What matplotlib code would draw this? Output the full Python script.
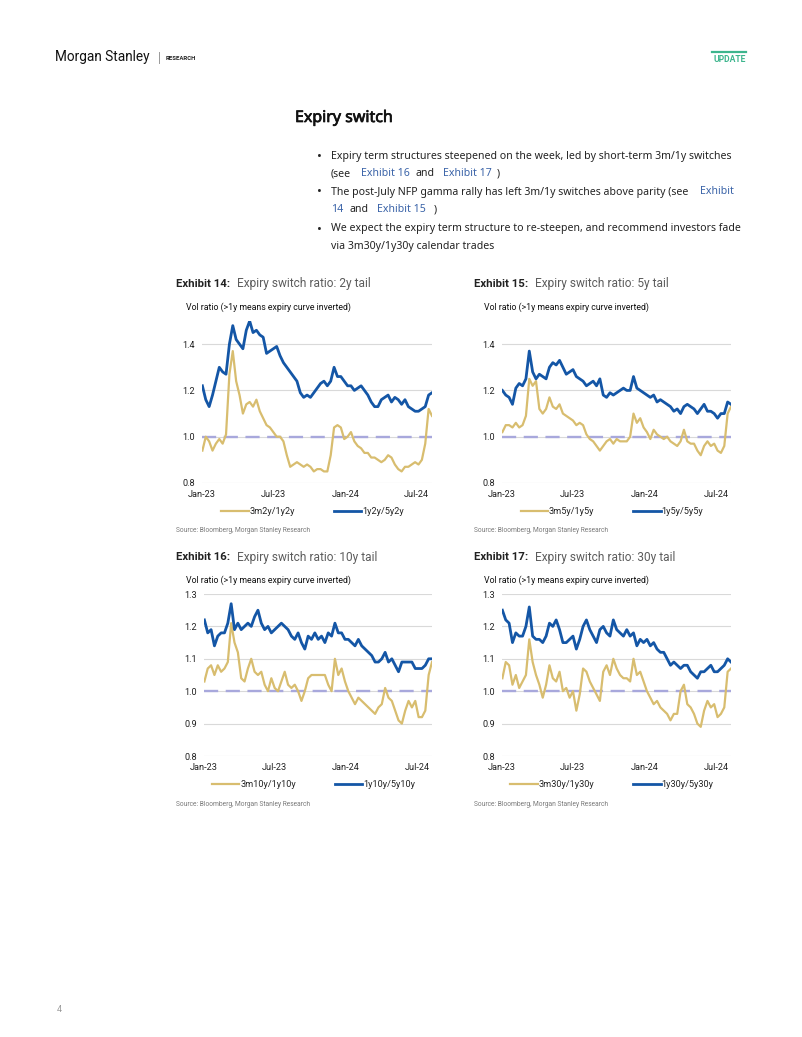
import numpy as np
import pandas as pd
import matplotlib.pyplot as plt
import matplotlib.patheffects as pe
from matplotlib.lines import Line2D

W, H = 802, 1037

start, end = '2023-01-02', '2024-08-09'

blue_2y = [1.22, 1.16, 1.13, 1.18, 1.24, 1.30, 1.28, 1.27, 1.40, 1.48,
           1.42, 1.40, 1.38, 1.46, 1.50, 1.45, 1.46, 1.44, 1.43, 1.36,
           1.37, 1.38, 1.39, 1.35, 1.32, 1.30, 1.28, 1.26, 1.24, 1.19,
           1.17, 1.18, 1.17, 1.19, 1.21, 1.23, 1.24, 1.22, 1.24, 1.30,
           1.26, 1.26, 1.24, 1.22, 1.22, 1.20, 1.21, 1.22, 1.20, 1.18,
           1.15, 1.13, 1.13, 1.16, 1.17, 1.18, 1.15, 1.17, 1.16, 1.14,
           1.16, 1.13, 1.12, 1.11, 1.11, 1.12, 1.13, 1.18, 1.19]
gold_2y = [0.94, 1.00, 0.98, 0.94, 0.97, 0.99, 0.97, 1.01, 1.27, 1.37,
           1.24, 1.18, 1.10, 1.14, 1.15, 1.13, 1.16, 1.11, 1.08, 1.05,
           1.04, 1.02, 1.00, 1.00, 0.98, 0.92, 0.87, 0.88, 0.89, 0.88,
           0.87, 0.88, 0.87, 0.85, 0.86, 0.86, 0.85, 0.85, 0.92, 1.04,
           1.05, 1.04, 0.99, 1.00, 1.02, 0.98, 0.96, 0.95, 0.93, 0.93,
           0.91, 0.91, 0.90, 0.89, 0.90, 0.92, 0.91, 0.88, 0.86, 0.85,
           0.87, 0.87, 0.88, 0.89, 0.88, 0.90, 0.97, 1.12, 1.09]

blue_5y = [1.20, 1.18, 1.17, 1.14, 1.21, 1.23, 1.22, 1.25, 1.37, 1.28,
           1.25, 1.27, 1.26, 1.25, 1.30, 1.32, 1.31, 1.33, 1.30, 1.27,
           1.28, 1.29, 1.26, 1.25, 1.24, 1.22, 1.23, 1.24, 1.22, 1.25,
           1.18, 1.17, 1.19, 1.18, 1.19, 1.20, 1.21, 1.20, 1.20, 1.26,
           1.21, 1.20, 1.19, 1.18, 1.17, 1.18, 1.15, 1.16, 1.15, 1.14,
           1.13, 1.11, 1.12, 1.10, 1.13, 1.14, 1.13, 1.12, 1.10, 1.12,
           1.14, 1.11, 1.11, 1.10, 1.08, 1.10, 1.10, 1.15, 1.14]
gold_5y = [1.02, 1.05, 1.05, 1.04, 1.06, 1.04, 1.05, 1.09, 1.25, 1.22,
           1.24, 1.12, 1.10, 1.12, 1.17, 1.13, 1.12, 1.14, 1.10, 1.09,
           1.08, 1.07, 1.05, 1.06, 1.05, 1.01, 0.99, 0.98, 0.96, 0.94,
           0.96, 0.98, 0.99, 0.97, 0.99, 0.98, 0.98, 0.98, 1.00, 1.10,
           1.06, 1.08, 1.04, 1.02, 0.99, 1.03, 1.01, 1.00, 0.99, 1.00,
           0.98, 0.97, 0.96, 0.98, 1.03, 0.98, 0.97, 0.97, 0.94, 0.92,
           0.96, 0.98, 0.96, 0.97, 0.94, 0.93, 0.96, 1.10, 1.13]

blue_10y = [1.22, 1.18, 1.19, 1.14, 1.17, 1.18, 1.18, 1.21, 1.27, 1.19,
            1.21, 1.19, 1.20, 1.21, 1.20, 1.23, 1.25, 1.21, 1.19, 1.20,
            1.18, 1.19, 1.20, 1.21, 1.20, 1.19, 1.17, 1.16, 1.18, 1.15,
            1.13, 1.17, 1.16, 1.18, 1.16, 1.17, 1.15, 1.18, 1.17, 1.21,
            1.18, 1.18, 1.16, 1.16, 1.15, 1.14, 1.16, 1.14, 1.13, 1.12,
            1.11, 1.09, 1.09, 1.10, 1.12, 1.09, 1.10, 1.08, 1.06, 1.09,
            1.09, 1.09, 1.09, 1.07, 1.07, 1.07, 1.08, 1.10, 1.10]
gold_10y = [1.03, 1.07, 1.08, 1.05, 1.08, 1.06, 1.07, 1.09, 1.21, 1.15,
            1.12, 1.04, 1.03, 1.07, 1.10, 1.06, 1.05, 1.06, 1.02, 1.00,
            1.04, 1.01, 1.00, 1.03, 1.06, 1.02, 1.01, 1.02, 1.00, 0.97,
            1.00, 1.04, 1.05, 1.05, 1.05, 1.05, 1.05, 1.02, 1.00, 1.10,
            1.05, 1.07, 1.03, 1.00, 0.98, 0.96, 0.98, 0.97, 0.96, 0.95,
            0.94, 0.93, 0.95, 0.96, 1.01, 0.98, 0.97, 0.94, 0.91, 0.90,
            0.94, 0.97, 0.95, 0.97, 0.92, 0.92, 0.94, 1.05, 1.09]

blue_30y = [1.25, 1.22, 1.21, 1.15, 1.18, 1.17, 1.17, 1.20, 1.26, 1.17,
            1.16, 1.16, 1.15, 1.17, 1.21, 1.20, 1.22, 1.19, 1.15, 1.15,
            1.16, 1.17, 1.13, 1.16, 1.20, 1.22, 1.19, 1.17, 1.15, 1.19,
            1.20, 1.18, 1.17, 1.22, 1.19, 1.18, 1.17, 1.19, 1.17, 1.18,
            1.14, 1.16, 1.15, 1.16, 1.14, 1.15, 1.13, 1.12, 1.12, 1.10,
            1.08, 1.09, 1.08, 1.07, 1.08, 1.08, 1.06, 1.05, 1.04, 1.06,
            1.06, 1.07, 1.08, 1.06, 1.06, 1.07, 1.08, 1.10, 1.09]
gold_30y = [1.04, 1.09, 1.08, 1.02, 1.05, 1.01, 1.03, 1.05, 1.16, 1.09,
            1.05, 1.02, 0.98, 1.02, 1.08, 1.04, 1.03, 1.06, 1.00, 1.01,
            0.98, 1.00, 0.94, 0.99, 1.07, 1.06, 1.03, 1.01, 0.99, 0.97,
            1.06, 1.08, 1.05, 1.10, 1.07, 1.05, 1.04, 1.04, 1.03, 1.10,
            1.05, 1.06, 1.03, 1.00, 0.98, 0.96, 0.97, 0.95, 0.94, 0.93,
            0.91, 0.93, 0.93, 1.00, 1.02, 0.96, 0.95, 0.93, 0.90, 0.89,
            0.94, 0.97, 0.95, 0.96, 0.92, 0.93, 0.95, 1.06, 1.07]

tick_dates = ['2023-01-01', '2023-07-01', '2024-01-01', '2024-07-01']
tick_labels = ['Jan-23', 'Jul-23', 'Jan-24', 'Jul-24']

BLUE = '#1456a6'
GOLD = '#d8bd6f'
LAV = '#a8a8dc'
GRID = '#d9d9d9'
CF = 'Roboto'
BF = 'Noto Sans'

fig = plt.figure(figsize=(W / 100, H / 100), dpi=100)


def fx(x):
    return x / W


def fy(y):
    return 1 - y / H


def txt(x, y, s, **kw):
    kw.setdefault('va', 'center')
    return fig.text(fx(x), fy(y), s, **kw)


# header
txt(55, 57, 'Morgan Stanley', family=CF, fontsize=9.8, color='#111111')
fig.add_artist(Line2D([fx(159), fx(159)], [fy(52), fy(63)], color='#999999', lw=0.7))
txt(166, 58, 'RESEARCH', family=CF, fontsize=4.3, weight='bold', color='#222222')
fig.add_artist(Line2D([fx(712), fx(746)], [fy(52), fy(52)], color='#3db58d', lw=1.6))
txt(746, 59, 'UPDATE', family=CF, fontsize=6.2, weight='bold', color='#3db58d', ha='right')

# section text
txt(295, 118, 'Expiry switch', family=BF, fontsize=11.5, color='#111111',
    path_effects=[pe.withStroke(linewidth=0.5, foreground='#111111')])
body = dict(family=BF, fontsize=7.6, color='#222222')
link = dict(family=BF, fontsize=7.6, color='#3a63a8')
for yb in [156, 192, 229]:
    txt(317, yb, '\u2022', family=BF, fontsize=9.5, color='#222222')
txt(331, 156, 'Expiry term structures steepened on the week, led by short-term 3m/1y switches', **body)
txt(331, 174, '(see', **body)
txt(361, 174, 'Exhibit 16', **link)
txt(416, 174, 'and', **body)
txt(443, 174, 'Exhibit 17', **link)
txt(497, 174, ')', **body)
txt(331, 192, 'The post-July NFP gamma rally has left 3m/1y switches above parity (see', **body)
txt(700, 192, 'Exhibit', **link)
txt(331, 210, '14', **link)
txt(350, 210, 'and', **body)
txt(377, 210, 'Exhibit 15', **link)
txt(434, 210, ')', **body)
txt(331, 229, 'We expect the expiry term structure to re-steepen, and recommend investors fade', **body)
txt(331, 247, 'via 3m30y/1y30y calendar trades', **body)


def panel(x0, x1, ytop, ybot, ylim, yticks, ylabels, gold, blue, gold_lab, blue_lab,
          num, tail, tx, title_y):
    ax = fig.add_axes([fx(x0), fy(ybot), (x1 - x0) / W, (ybot - ytop) / H])
    dg = pd.date_range(start, end, periods=len(gold))
    db = pd.date_range(start, end, periods=len(blue))
    ax.axhline(1.0, color=LAV, lw=1.7, dashes=(6, 3.2), zorder=1.5)
    ax.plot(dg, gold, color=GOLD, lw=1.6, zorder=2, label=gold_lab)
    ax.plot(db, blue, color=BLUE, lw=2.0, zorder=3, label=blue_lab)
    ax.set_ylim(*ylim)
    ax.set_xlim(pd.Timestamp('2023-01-01'), pd.Timestamp(end))
    ax.set_yticks(yticks)
    ax.set_yticklabels(ylabels)
    ax.set_xticks(pd.to_datetime(tick_dates))
    ax.set_xticklabels(tick_labels)
    ax.grid(axis='y', color=GRID, lw=0.8)
    ax.set_axisbelow(True)
    for s in ax.spines.values():
        s.set_visible(False)
    ax.tick_params(length=0, labelsize=6.6, labelcolor='#222222', pad=5)
    for lab in ax.get_xticklabels() + ax.get_yticklabels():
        lab.set_family(CF)
    leg = ax.legend(loc='center', bbox_to_anchor=(0.48, -0.175), ncol=2, frameon=False,
                    prop={'family': CF, 'size': 6.6}, handlelength=3.0,
                    handletextpad=0.1, columnspacing=4.2)
    for t in leg.get_texts():
        t.set_color('#222222')
    txt(tx, title_y, 'Exhibit %d:' % num, family=CF, fontsize=8.2, weight='bold', color='#222222')
    txt(tx + 61, title_y, 'Expiry switch ratio: %s tail' % tail, family=CF, fontsize=8.6,
        color='#5c5c5c')
    txt(tx + 10, title_y + 23, 'Vol ratio (>1y means expiry curve inverted)', family=CF,
        fontsize=6.3, color='#111111')
    txt(tx, ybot + 48, 'Source: Bloomberg, Morgan Stanley Research', family=CF,
        fontsize=4.8, color='#7a7a7a')
    return ax


t1 = [0.8, 1.0, 1.2, 1.4]
l1 = ['0.8', '1.0', '1.2', '1.4']
t2 = [0.8, 0.9, 1.0, 1.1, 1.2, 1.3]
l2 = ['0.8', '0.9', '1.0', '1.1', '1.2', '1.3']

panel(202, 432, 321, 483, (0.8, 1.5), t1, l1, gold_2y, blue_2y, '3m2y/1y2y', '1y2y/5y2y',
      14, '2y', 176, 284)
panel(502, 731, 321, 483, (0.8, 1.5), t1, l1, gold_5y, blue_5y, '3m5y/1y5y', '1y5y/5y5y',
      15, '5y', 474, 284)
panel(204, 432, 594, 756, (0.8, 1.3), t2, l2, gold_10y, blue_10y, '3m10y/1y10y', '1y10y/5y10y',
      16, '10y', 176, 557)
panel(502, 731, 594, 756, (0.8, 1.3), t2, l2, gold_30y, blue_30y, '3m30y/1y30y', '1y30y/5y30y',
      17, '30y', 474, 557)

txt(57, 1010, '4', family=CF, fontsize=6.5, color='#999999')

fig.savefig('out.png', dpi=100)
